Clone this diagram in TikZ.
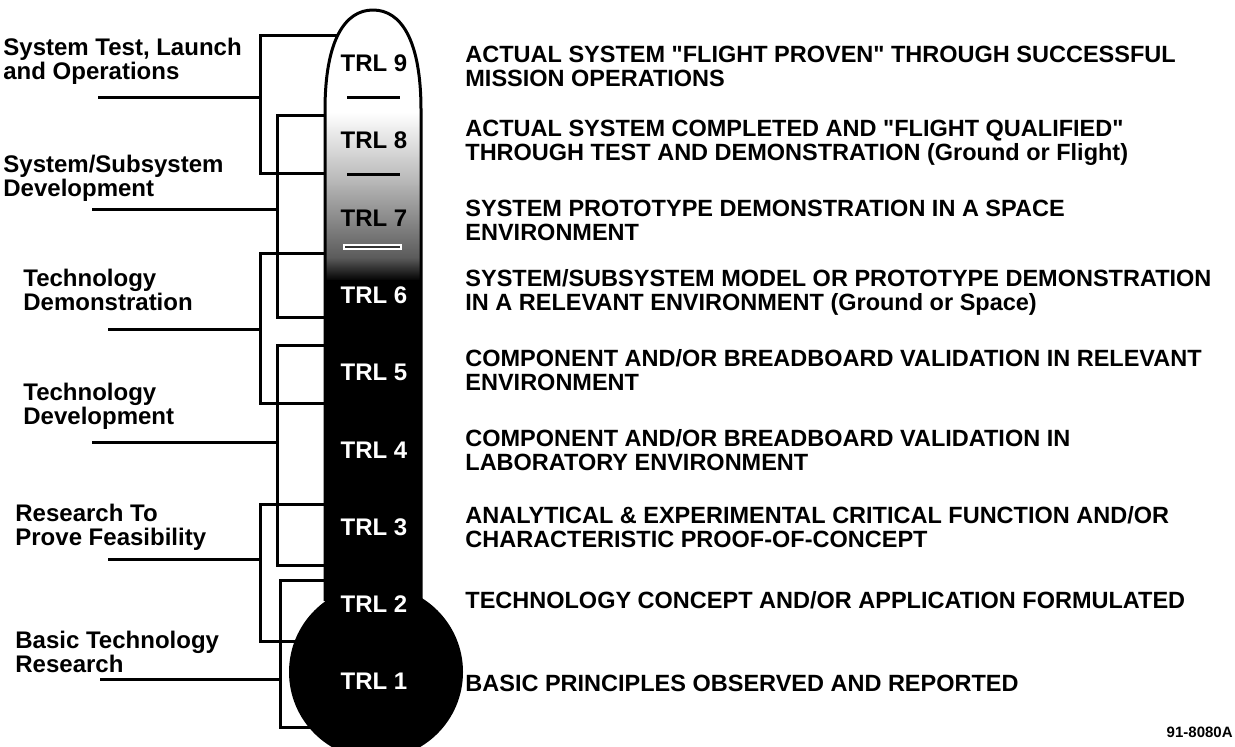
\documentclass[tikz,border=0pt]{standalone}
\usepackage{fontspec}
\setmainfont{Liberation Sans}
\usetikzlibrary{calc}

\begin{document}
\begin{tikzpicture}[
    x=0.5pt, y=-0.5pt,
    chave/.style={line width=1.5pt},
    esq/.style={anchor=west, align=left, inner sep=0pt, font=\fontsize{12}{11.8}\selectfont\bfseries},
    desc/.style={anchor=west, align=left, inner sep=0pt, font=\fontsize{11.75}{12}\selectfont\bfseries},
    trl/.style={inner sep=0pt, font=\fontsize{12}{12}\selectfont\bfseries}
]
    \useasboundingbox (0,0) rectangle (1235,746);

    % 1. Eixo do termometro
    \coordinate (E) at (373,0);

    % 2. Cantos das chaves (topo A, base B) e inicio dos tracos (L)
    \coordinate (A1) at (260,35);  \coordinate (B1) at (260,173); \coordinate (L1) at (98,97);
    \coordinate (A2) at (277,115); \coordinate (B2) at (277,317); \coordinate (L2) at (92,209);
    \coordinate (A3) at (260,253); \coordinate (B3) at (260,403); \coordinate (L3) at (108,329);
    \coordinate (A4) at (277,345); \coordinate (B4) at (277,565); \coordinate (L4) at (92,442);
    \coordinate (A5) at (260,504); \coordinate (B5) at (260,641); \coordinate (L5) at (108,559);
    \coordinate (A6) at (280,580); \coordinate (B6) at (280,727); \coordinate (L6) at (100,679);

    % 3. Chaves (terminam sob o tubo)
    \draw[chave] (A1 -| E) -- (A1) -- (B1) -- (B1 -| E);
    \draw[chave] (A2 -| E) -- (A2) -- (B2) -- (B2 -| E);
    \draw[chave] (A3 -| E) -- (A3) -- (B3) -- (B3 -| E);
    \draw[chave] (A4 -| E) -- (A4) -- (B4) -- (B4 -| E);
    \draw[chave] (A5 -| E) -- (A5) -- (B5) -- (B5 -| E);
    \draw[chave] (A6 -| E) -- (A6) -- (B6) -- (B6 -| E);
    \draw[chave] (L1) -- (L1 -| A1);
    \draw[chave] (L2) -- (L2 -| A2);
    \draw[chave] (L3) -- (L3 -| A3);
    \draw[chave] (L4) -- (L4 -| A4);
    \draw[chave] (L5) -- (L5 -| A5);
    \draw[chave] (L6) -- (L6 -| A6);

    % 4. Tubo com degrade
    \fill[white] (325,620) -- (325,110) .. controls (325,40) and (345,10) .. (373,10)
        .. controls (401,10) and (421,40) .. (421,110) -- (421,620) -- cycle;
    \begin{scope}
        \clip (325,620) -- (325,110) .. controls (325,40) and (345,10) .. (373,10)
            .. controls (401,10) and (421,40) .. (421,110) -- (421,620) -- cycle;
        \shade[top color=white, bottom color=black!30] (300,112) rectangle (450,186);
        \shade[top color=black!30, bottom color=black!65] (300,185) rectangle (450,259);
        \shade[top color=black!65, bottom color=black] (300,258) rectangle (450,281);
        \fill[black] (300,280) rectangle (450,620);
    \end{scope}
    \draw[line width=1.5pt] (325,601) -- (325,110) .. controls (325,40) and (345,10) .. (373,10)
        .. controls (401,10) and (421,40) .. (421,110) -- (421,601);

    % 5. Bulbo
    \fill[black] (376,672) circle (87);

    % 6. Tracos separadores
    \draw[line width=1.5pt] (347,97) -- (400,97);
    \draw[line width=1.5pt] (347,174) -- (400,174);
    \draw[white, line width=3pt] (343,247) -- (402,247);
    \draw[black!80, line width=1pt] (345,247) -- (400,247);

    % 7. Niveis TRL
    \node[trl] (T9) at (374,63) {TRL 9};
    \node[trl] (T8) at (374,140) {TRL 8};
    \node[trl] (T7) at (374,218) {TRL 7};
    \node[trl, white] (T6) at (374,295) {TRL 6};
    \node[trl, white] (T5) at (374,372) {TRL 5};
    \node[trl, white] (T4) at (374,450) {TRL 4};
    \node[trl, white] (T3) at (374,527) {TRL 3};
    \node[trl, white] (T2) at (374,604) {TRL 2};
    \node[trl, white] (T1) at (374,681) {TRL 1};

    % 8. Rotulos das fases
    \node[esq] (S1) at (3,61) {System Test, Launch\\and Operations};
    \node[esq] (S2) at (3,178) {System/Subsystem\\Development};
    \node[esq] (S3) at (23,290) {Technology\\Demonstration};
    \node[esq] (S4) at (23,406) {Technology\\Development};
    \node[esq] (S5) at (15,527) {Research To\\Prove Feasibility};
    \node[esq] (S6) at (15,652) {Basic Technology\\Research};

    % 9. Descricoes
    \node[desc] (D9) at (465,66) {ACTUAL SYSTEM \textquotedbl FLIGHT PROVEN\textquotedbl{} THROUGH SUCCESSFUL\\MISSION OPERATIONS};
    \node[desc] (D8) at (465,143) {ACTUAL SYSTEM COMPLETED AND \textquotedbl FLIGHT QUALIFIED\textquotedbl\\THROUGH TEST AND DEMONSTRATION (Ground or Flight)};
    \node[desc] (D7) at (465,220) {SYSTEM PROTOTYPE DEMONSTRATION IN A SPACE\\ENVIRONMENT};
    \node[desc] (D6) at (465,292) {SYSTEM/SUBSYSTEM MODEL OR PROTOTYPE DEMONSTRATION\\IN A RELEVANT ENVIRONMENT (Ground or Space)};
    \node[desc] (D5) at (465,370) {COMPONENT AND/OR BREADBOARD VALIDATION IN RELEVANT\\ENVIRONMENT};
    \node[desc] (D4) at (465,450) {COMPONENT AND/OR BREADBOARD VALIDATION IN\\LABORATORY ENVIRONMENT};
    \node[desc] (D3) at (465,527) {ANALYTICAL \& EXPERIMENTAL CRITICAL FUNCTION AND/OR\\CHARACTERISTIC PROOF-OF-CONCEPT};
    \node[desc] (D2) at (465,600) {TECHNOLOGY CONCEPT AND/OR APPLICATION FORMULATED};
    \node[desc] (D1) at (465,683) {BASIC PRINCIPLES OBSERVED AND REPORTED};

    % 10. Codigo da figura
    \node[anchor=east, inner sep=0pt, font=\fontsize{7.5}{8}\selectfont\bfseries] (cod) at (1233,732) {91-8080A};

\end{tikzpicture}
\end{document}
